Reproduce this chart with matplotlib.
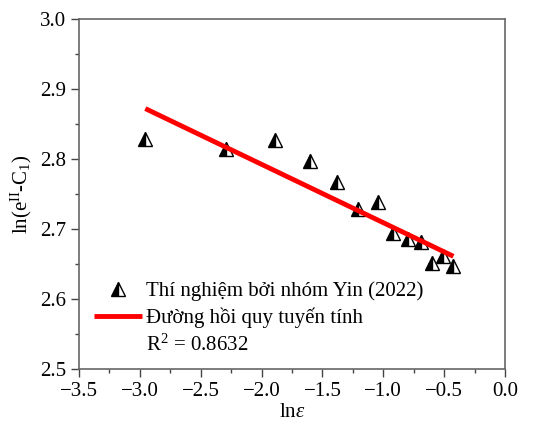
import numpy as np
import matplotlib
matplotlib.use("Agg")
import matplotlib.pyplot as plt
from matplotlib.ticker import MultipleLocator

# data
ln_eps = [-2.955, -2.29, -1.887, -1.60, -1.383, -1.21, -1.043,
          -0.917, -0.80, -0.693, -0.60, -0.512, -0.424]
ln_e_c = [2.828, 2.814, 2.827, 2.797, 2.767, 2.728, 2.739,
          2.694, 2.686, 2.681, 2.651, 2.661, 2.647]
fit_x = [-2.955, -0.424]
fit_y = [2.872, 2.661]
r2_text = r"R$^2$ = 0.8632"

plt.rcParams['font.family'] = 'Liberation Serif'
plt.rcParams['font.size'] = 15
plt.rcParams['mathtext.fontset'] = 'custom'
plt.rcParams['mathtext.rm'] = 'Liberation Serif'
plt.rcParams['mathtext.it'] = 'Liberation Serif:italic'

fig = plt.figure(figsize=(5.34, 4.26), dpi=100)
ax = fig.add_axes([79 / 534, 1 - 369 / 426, (505 - 79) / 534, (369 - 19) / 426])

ax.plot(ln_eps, ln_e_c, linestyle='none', marker='^', markersize=10,
        fillstyle='left', markerfacecolor='black', markerfacecoloralt='white',
        markeredgecolor='black', markeredgewidth=1.0,
        label='Thí nghiệm bởi nhóm Yin (2022)')
ax.plot(fit_x, fit_y, color='#ff0000', linewidth=3.5,
        solid_capstyle='butt', label='Đường hồi quy tuyến tính')
ax.plot([], [], linestyle='none', label=r2_text)

ax.set_xlim(-3.5, 0.0)
ax.set_ylim(2.5, 3.0)
ax.xaxis.set_major_locator(MultipleLocator(0.5))
ax.xaxis.set_minor_locator(MultipleLocator(0.25))
ax.yaxis.set_major_locator(MultipleLocator(0.1))
ax.yaxis.set_minor_locator(MultipleLocator(0.05))
ax.xaxis.set_major_formatter(plt.FuncFormatter(lambda v, p: f"{v:.1f}".replace('-', '\u2212')))
ax.yaxis.set_major_formatter(plt.FuncFormatter(lambda v, p: f"{v:.1f}"))

ax.tick_params(which='major', direction='out', length=6, width=1, color='#444444')
ax.tick_params(which='minor', direction='out', length=3, width=1, color='#444444')
for s in ax.spines.values():
    s.set_color('#666666')
    s.set_linewidth(1.2)

ax.set_xlabel(r'ln$\it{\varepsilon}$', labelpad=1)
ax.set_ylabel(r'ln(e$^{\mathrm{II}}$-C$_1$)', labelpad=4)

leg = ax.legend(loc='lower left', bbox_to_anchor=(0.005, 0.003), frameon=False,
                handlelength=2.3, handletextpad=0.2, labelspacing=0.3,
                borderaxespad=0.2, fontsize=15)

fig.savefig('out.png', dpi=100)
